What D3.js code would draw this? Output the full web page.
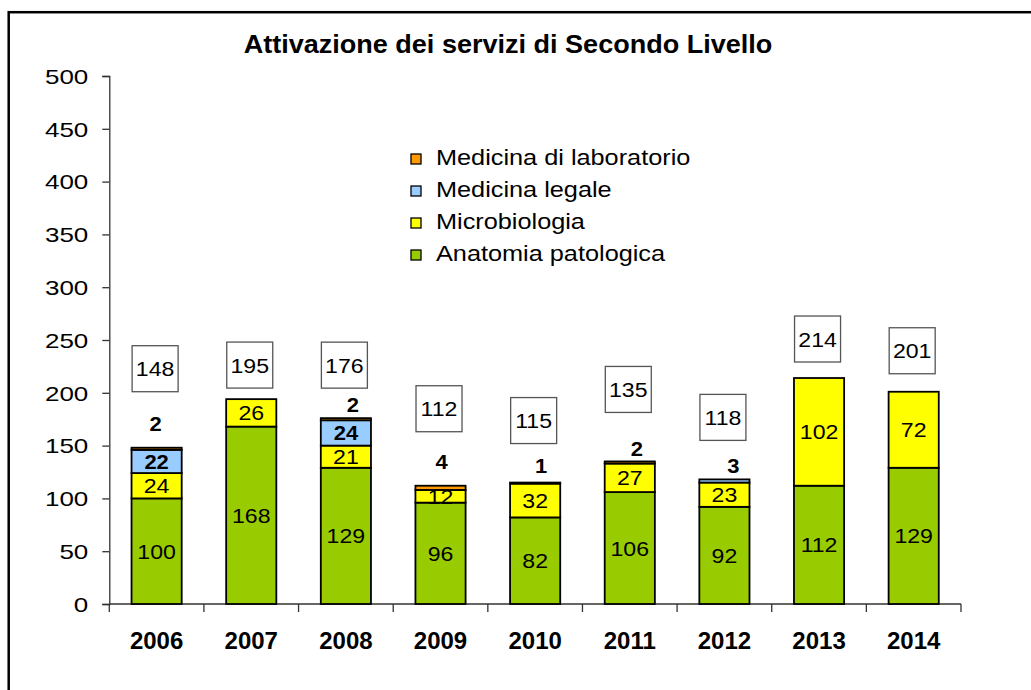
<!DOCTYPE html>
<html>
<head>
<meta charset="utf-8">
<script src="https://cdn.jsdelivr.net/npm/d3@7"></script>
<style>
  body { margin: 0; background: #fff; }
  svg { display: block; font-family: Arial, "Liberation Sans", sans-serif; }
</style>
</head>
<body>
<svg id="chart" width="1031" height="690"></svg>
<script>
`use strict`;

// data
const years = [`2006`, `2007`, `2008`, `2009`, `2010`, `2011`, `2012`, `2013`, `2014`];
const anatomia = [100, 168, 129, 96, 82, 106, 92, 112, 129];
const microbiologia = [24, 26, 21, 12, 32, 27, 23, 102, 72];
const medLegale = [22, 0, 24, 0, 0, 0, 3, 0, 0];
const medLab = [2, 0, 2, 4, 1, 2, 0, 0, 0];
const totals = [148, 195, 176, 112, 115, 135, 118, 214, 201];
const yTicks = [0, 50, 100, 150, 200, 250, 300, 350, 400, 450, 500];

const series = [
  {key: `anatomia`, name: `Anatomia patologica`, color: `#99cc00`, bold: false},
  {key: `micro`, name: `Microbiologia`, color: `#ffff00`, bold: false},
  {key: `legale`, name: `Medicina legale`, color: `#99ccff`, bold: true},
  {key: `lab`, name: `Medicina di laboratorio`, color: `#ff9900`, bold: true}
];

// layout only: gap (px) between stack top and the total box, and nudges for tiny labels
const boxGap = [56, 10, 30, 54, 39, 49, 39, 16, 18];
const tinyNudge = [[-1, -24], null, [7, -13], [1, -24], [6, -17], [7, -13], [9, -14], null, null];

const rows = years.map((yr, i) => ({
  year: yr, anatomia: anatomia[i], micro: microbiologia[i], legale: medLegale[i], lab: medLab[i], total: totals[i], i: i
}));

const svg = d3.select(`#chart`);

// frame (only top and left edges fall inside the picture)
svg.append(`rect`)
  .attr(`x`, 8.7).attr(`y`, 12.2)
  .attr(`width`, 1100).attr(`height`, 800)
  .attr(`fill`, `none`).attr(`stroke`, `#000`).attr(`stroke-width`, 2.5);

const put = (sel, x, y, sx) => sel.attr(`transform`, `translate(${x},${y}) scale(${sx},1)`);

// title
put(svg.append(`text`), 508, 53, 1.04)
  .attr(`text-anchor`, `middle`)
  .style(`font-size`, `26px`).style(`font-weight`, `bold`)
  .text(`Attivazione dei servizi di Secondo Livello`);

const x = d3.scaleBand().domain(years).range([109.3, 961]).paddingInner(0.47).paddingOuter(0.235);
const y = d3.scaleLinear().domain([0, 500]).range([604, 76]);

// y axis
const gy = svg.append(`g`).attr(`transform`, `translate(109.3,0)`)
  .call(d3.axisLeft(y).tickValues(yTicks).tickSize(7));
gy.select(`.domain`).attr(`stroke`, `#333`).attr(`stroke-width`, 1.3);
gy.selectAll(`.tick line`).attr(`stroke`, `#333`).attr(`stroke-width`, 1.3);
gy.selectAll(`.tick text`).each(function () {
  put(d3.select(this).attr(`x`, 0), -21, 0, 1.3);
}).attr(`dy`, `0.36em`).attr(`fill`, `#000`).style(`font-size`, `20px`).style(`font-family`, `Arial, "Liberation Sans", sans-serif`);

// x axis with ticks between categories
const step = x.step();
const x0 = x.range()[0];
svg.append(`line`)
  .attr(`x1`, x0).attr(`x2`, x.range()[1]).attr(`y1`, y(0)).attr(`y2`, y(0))
  .attr(`stroke`, `#333`).attr(`stroke-width`, 1.3);
svg.selectAll(`line.xt`).data(d3.range(years.length + 1)).enter()
  .append(`line`).attr(`class`, `xt`)
  .attr(`x1`, i => x0 + i * step).attr(`x2`, i => x0 + i * step)
  .attr(`y1`, y(0)).attr(`y2`, y(0) + 8)
  .attr(`stroke`, `#333`).attr(`stroke-width`, 1.3);

svg.selectAll(`text.yr`).data(years).enter()
  .append(`text`).attr(`class`, `yr`)
  .attr(`x`, d => x(d) + x.bandwidth() / 2).attr(`y`, 649)
  .attr(`text-anchor`, `middle`)
  .style(`font-size`, `24px`).style(`font-weight`, `bold`)
  .text(d => d);

// stacked bars
const stacked = d3.stack().keys(series.map(s => s.key))(rows);

stacked.forEach((layer, k) => {
  const s = series[k];
  svg.append(`g`).selectAll(`rect`).data(layer.filter(d => d[1] > d[0])).enter()
    .append(`rect`)
    .attr(`x`, d => x(d.data.year))
    .attr(`y`, d => y(d[1]))
    .attr(`width`, x.bandwidth())
    .attr(`height`, d => y(d[0]) - y(d[1]))
    .attr(`fill`, s.color)
    .attr(`stroke`, `#000`).attr(`stroke-width`, 1.8);
});

// segment labels
stacked.forEach((layer, k) => {
  const s = series[k];
  layer.filter(d => d[1] > d[0]).forEach(d => {
    const v = d[1] - d[0];
    const cx = x(d.data.year) + x.bandwidth() / 2;
    let px = cx, py = (y(d[0]) + y(d[1])) / 2;
    if (v < 5) {
      const n = tinyNudge[d.data.i];
      px = cx + n[0];
      py = y(d.data.total) + n[1];
    }
    put(svg.append(`text`), px, py, 1.1)
      .attr(`text-anchor`, `middle`).attr(`dy`, `0.36em`)
      .style(`font-size`, s.bold ? `20px` : `21px`)
      .style(`font-weight`, s.bold ? `bold` : `normal`)
      .text(v);
  });
});

// total boxes
const bs = 46;
rows.forEach(d => {
  const cx = x(d.year) + x.bandwidth() / 2 - 1.5;
  const bottom = y(d.total) - boxGap[d.i];
  svg.append(`rect`)
    .attr(`x`, cx - bs / 2).attr(`y`, bottom - bs)
    .attr(`width`, bs).attr(`height`, bs)
    .attr(`fill`, `#fff`).attr(`stroke`, `#555`).attr(`stroke-width`, 1.3);
  put(svg.append(`text`), cx, bottom - bs / 2, 1.1)
    .attr(`text-anchor`, `middle`).attr(`dy`, `0.36em`)
    .style(`font-size`, `21px`)
    .text(d.total);
});

// legend
const legend = svg.append(`g`).attr(`transform`, `translate(411,165)`);
series.slice().reverse().forEach((s, i) => {
  const g = legend.append(`g`).attr(`transform`, `translate(0,${i * 32})`);
  g.append(`rect`)
    .attr(`x`, 0).attr(`y`, -11).attr(`width`, 10).attr(`height`, 10)
    .attr(`fill`, s.color).attr(`stroke`, `#000`).attr(`stroke-width`, 1.3);
  put(g.append(`text`), 25, 0, 1.15)
    .style(`font-size`, `22px`)
    .text(s.name);
});
</script>
</body>
</html>
